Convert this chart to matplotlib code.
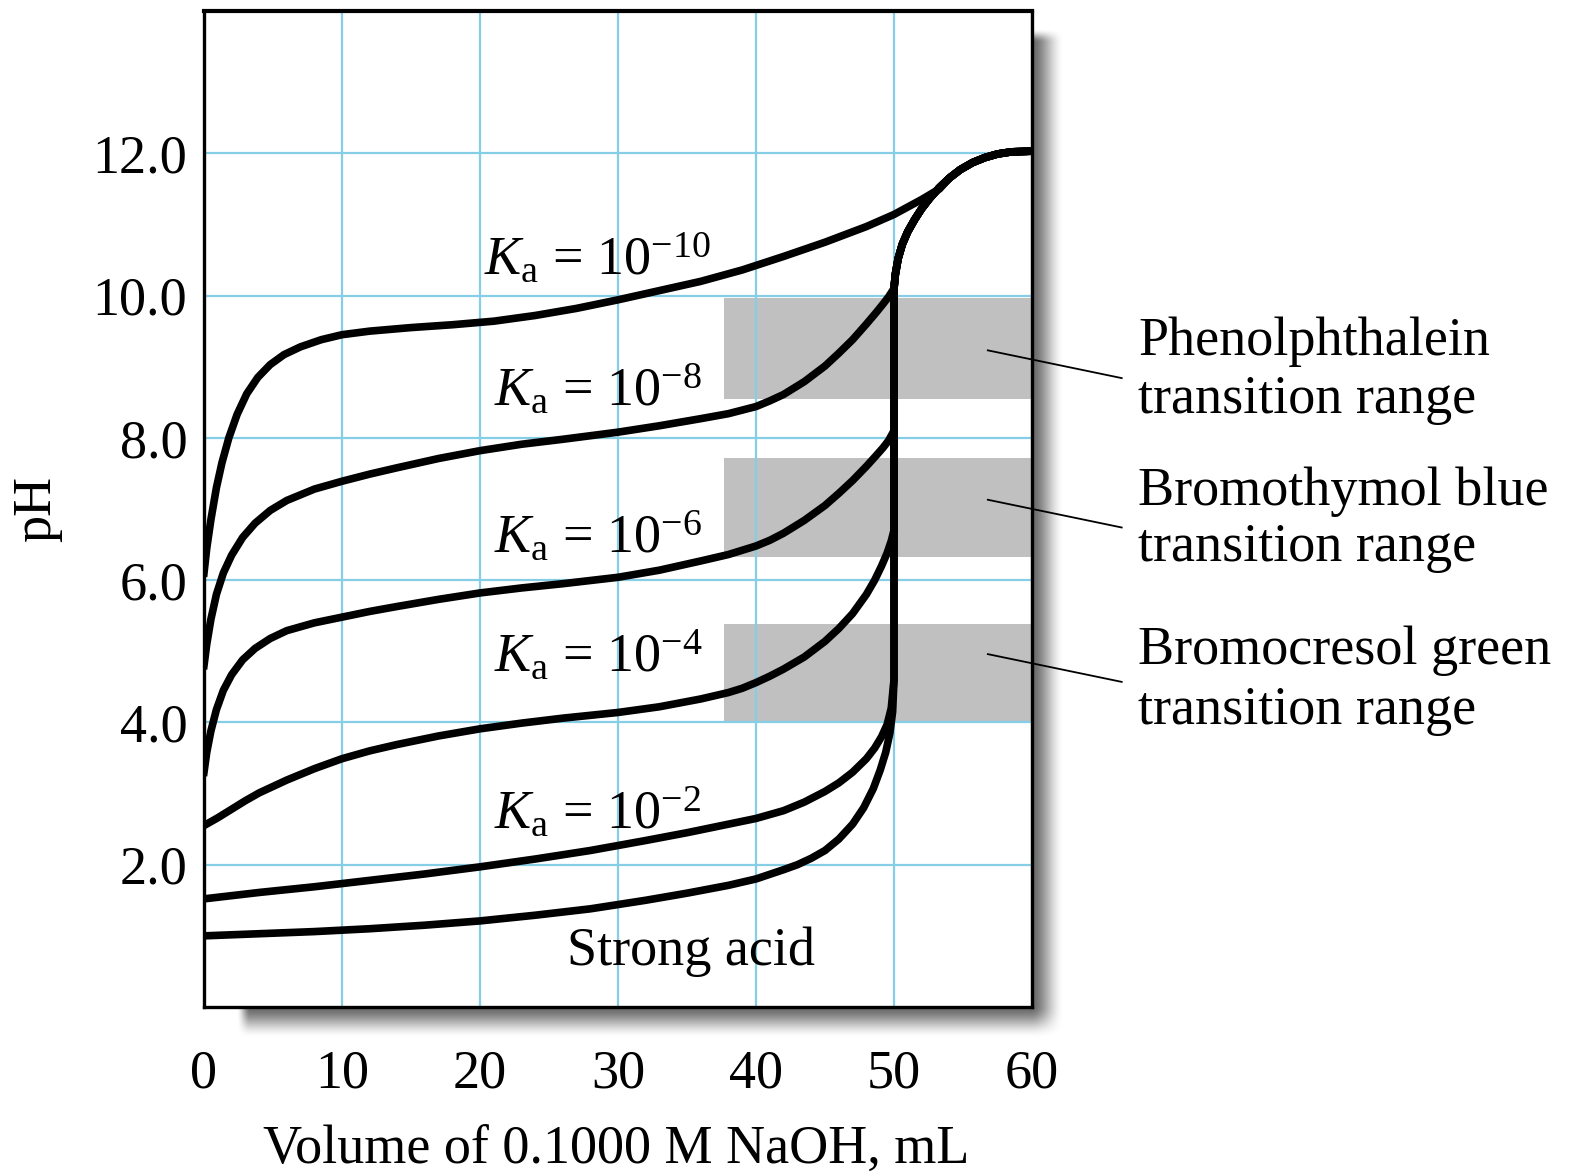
import numpy as np
import matplotlib
matplotlib.use("Agg")
import matplotlib.pyplot as plt

plt.rcParams['font.family'] = ['Liberation Serif', 'DejaVu Serif']
plt.rcParams['mathtext.fontset'] = 'custom'
plt.rcParams['mathtext.rm'] = 'Liberation Serif'
plt.rcParams['mathtext.it'] = 'Liberation Serif:italic'

FS = 39

# Titration curves: (volume mL, pH)
strong_x = [0, 4, 8, 12, 16, 20, 24, 28, 32, 35, 38, 40, 42, 43, 44, 45, 46, 47, 47.8, 48.5, 49, 49.4, 49.7, 49.9, 50.0, 50.0]
strong_ph = [1.0, 1.03, 1.06, 1.10, 1.15, 1.21, 1.29, 1.38, 1.50, 1.60, 1.71, 1.80, 1.93, 2.0, 2.09, 2.2, 2.36, 2.57, 2.8, 3.07, 3.33, 3.58, 3.85, 4.15, 4.6, 10.1]

ka2_x = [0, 4, 8, 12, 16, 20, 24, 28, 32, 35, 38, 40, 42, 43.5, 45, 46, 47, 48, 48.6, 49.1, 49.5, 49.8, 50.0, 50.0]
ka2_ph = [1.52, 1.61, 1.69, 1.78, 1.87, 1.97, 2.08, 2.2, 2.34, 2.45, 2.57, 2.65, 2.76, 2.88, 3.03, 3.15, 3.3, 3.49, 3.64, 3.8, 3.97, 4.2, 4.6, 10.1]

ka4_x = [0, 1, 2, 3, 4, 5, 6, 8, 10, 12, 14, 17, 20, 23, 26, 30, 33, 36, 38, 39, 40, 41, 42, 43.5, 45, 46, 47, 48, 48.6, 49.1, 49.5, 49.8, 50.0, 50.0]
ka4_ph = [2.55, 2.66, 2.78, 2.9, 3.01, 3.1, 3.19, 3.35, 3.49, 3.6, 3.69, 3.81, 3.91, 3.99, 4.06, 4.14, 4.22, 4.33, 4.42, 4.48, 4.56, 4.65, 4.75, 4.92, 5.14, 5.32, 5.53, 5.8, 6.0, 6.2, 6.38, 6.55, 6.7, 10.1]

ka6_x = [0, 0.2, 0.5, 0.9, 1.4, 2.0, 2.8, 3.7, 4.8, 6, 8, 10, 12, 14, 17, 20, 23, 26, 30, 33, 36, 38, 40, 41, 42, 43.5, 45, 46, 47, 48, 48.7, 49.2, 49.6, 50.0, 50.0]
ka6_ph = [3.3, 3.58, 3.88, 4.18, 4.45, 4.67, 4.88, 5.04, 5.18, 5.29, 5.4, 5.48, 5.56, 5.63, 5.73, 5.82, 5.89, 5.95, 6.04, 6.14, 6.27, 6.36, 6.48, 6.56, 6.66, 6.84, 7.05, 7.22, 7.4, 7.6, 7.75, 7.86, 7.96, 8.1, 10.1]

ka8_x = [0, 0.2, 0.5, 0.9, 1.4, 2.0, 2.8, 3.7, 4.8, 6, 8, 10, 12, 14, 17, 20, 23, 26, 30, 33, 36, 38, 40, 41, 42, 43.5, 45, 46, 47, 48, 48.7, 49.2, 49.6, 50.0]
ka8_ph = [4.8, 5.1, 5.45, 5.8, 6.1, 6.35, 6.6, 6.8, 6.98, 7.12, 7.28, 7.39, 7.49, 7.58, 7.71, 7.82, 7.91, 7.98, 8.08, 8.17, 8.27, 8.34, 8.44, 8.52, 8.61, 8.79, 9.01, 9.19, 9.38, 9.6, 9.76, 9.88, 9.98, 10.1]

ka10_x = [0, 0.2, 0.5, 0.9, 1.3, 1.8, 2.4, 3.1, 3.9, 4.8, 5.8, 7, 8.5, 10, 12, 15, 18, 21, 24, 27, 30, 33, 36, 39, 42, 45, 48, 50, 52, 53.3]
ka10_ph = [6.1, 6.45, 6.85, 7.3, 7.65, 8.0, 8.33, 8.62, 8.85, 9.03, 9.17, 9.28, 9.38, 9.45, 9.5, 9.55, 9.59, 9.64, 9.72, 9.82, 9.94, 10.07, 10.2, 10.36, 10.55, 10.75, 10.97, 11.14, 11.35, 11.5]

# shared part past the equivalence point
tail_x = [50.0, 50.1, 50.3, 50.6, 51, 51.5, 52, 52.6, 53.3, 54, 54.8, 55.7, 56.6, 57.5, 58.5, 60]
tail_ph = [10.1, 10.3, 10.52, 10.72, 10.9, 11.07, 11.22, 11.37, 11.52, 11.65, 11.77, 11.87, 11.94, 11.99, 12.02, 12.03]

curves = [
    (strong_x, strong_ph),
    (ka2_x, ka2_ph),
    (ka4_x, ka4_ph),
    (ka6_x, ka6_ph),
    (ka8_x, ka8_ph),
]

# indicator transition ranges (pH)
band_x0 = 37.7
band_low = [8.54, 6.32, 4.02]
band_high = [9.96, 7.72, 5.38]
band_names = [("Phenolphthalein", "transition range"),
              ("Bromothymol blue", "transition range"),
              ("Bromocresol green", "transition range")]

curve_labels = [r"$K_{\mathrm{a}}$ = 10$^{-10}$", r"$K_{\mathrm{a}}$ = 10$^{-8}$",
                r"$K_{\mathrm{a}}$ = 10$^{-6}$", r"$K_{\mathrm{a}}$ = 10$^{-4}$",
                r"$K_{\mathrm{a}}$ = 10$^{-2}$"]
label_pos = [(20.3, 10.29), (21.0, 8.46), (21.0, 6.39), (21.0, 4.72), (21.0, 2.51)]

W, H = 1570, 1174
fig = plt.figure(figsize=(W / 100, H / 100), dpi=100)
fig.patch.set_facecolor('white')

# drop shadow behind the plot frame
yy, xx = np.mgrid[0:H, 0:W]


def ramp(v, a, b):
    t = np.clip((v - a) / (b - a), 0, 1)
    return t * t * (3 - 2 * t)


alpha = ramp(xx, 236, 250) * ramp(xx, 1064, 1030) * ramp(yy, 28, 42) * ramp(yy, 1038, 1005)
shadow = np.zeros((H, W, 4))
shadow[..., 3] = 0.6 * alpha
fig.figimage(shadow, xo=0, yo=0, origin='upper', zorder=-1)

ax = fig.add_axes([204 / W, 1 - 1007 / H, 828 / W, 996 / H])
ax.set_facecolor('white')
ax.set_xlim(0, 60)
ax.set_ylim(0, 14)

for lo, hi in zip(band_low, band_high):
    ax.fill_between([band_x0, 60], lo, hi, color='#c0c0c0', lw=0, zorder=0.3)

ax.set_xticks(range(0, 61, 10))
ax.set_xticklabels([str(v) for v in range(0, 61, 10)])
ax.set_yticks(range(2, 13, 2))
ax.set_yticklabels([f"{v:.1f}" for v in range(2, 13, 2)])
ax.tick_params(axis='both', length=0, labelsize=FS)
ax.tick_params(axis='x', pad=30)
ax.tick_params(axis='y', pad=12)
ax.set_axisbelow(True)
ax.grid(True, color='#86cde6', lw=1.6)
for sp in ax.spines.values():
    sp.set_linewidth(2.4)
    sp.set_color('black')
    sp.set_zorder(5)
ax.spines['top'].set_linewidth(3.0)

LW = 5.5
for xs, ps in curves:
    ax.plot(list(xs) + tail_x, list(ps) + tail_ph, color='black', lw=LW,
            solid_joinstyle='round', zorder=3)
ax.plot(ka10_x + tail_x[9:], ka10_ph + tail_ph[9:], color='black', lw=LW,
        solid_joinstyle='round', zorder=3)

for txt, (lx, ly) in zip(curve_labels, label_pos):
    ax.text(lx, ly, txt, fontsize=FS, ha='left', va='baseline', zorder=4)
ax.text(26.3, 0.59, "Strong acid", fontsize=FS, ha='left', va='baseline', zorder=4)

# indicator labels with leader lines
line_y = [(9.23, 8.84), (7.13, 6.74), (4.96, 4.57)]
text_base = [(9.16, 8.35), (7.06, 6.27), (4.82, 3.98)]
for (n1, n2), (y1, y2), (b1, b2) in zip(band_names, line_y, text_base):
    ax.plot([56.8, 66.5], [y1, y2], color='black', lw=1.3, clip_on=False, zorder=6)
    ax.text(67.7, b1, n1, fontsize=FS, ha='left', va='baseline', clip_on=False)
    ax.text(67.7, b2, n2, fontsize=FS, ha='left', va='baseline', clip_on=False)

ax.set_xlabel("Volume of 0.1000 M NaOH, mL", fontsize=FS)
ax.xaxis.set_label_coords(0.498, -0.118)
ax.set_ylabel("pH", fontsize=FS)
ax.yaxis.set_label_coords(-0.171, 0.5)

fig.savefig("out.png", dpi=100, facecolor='white')
